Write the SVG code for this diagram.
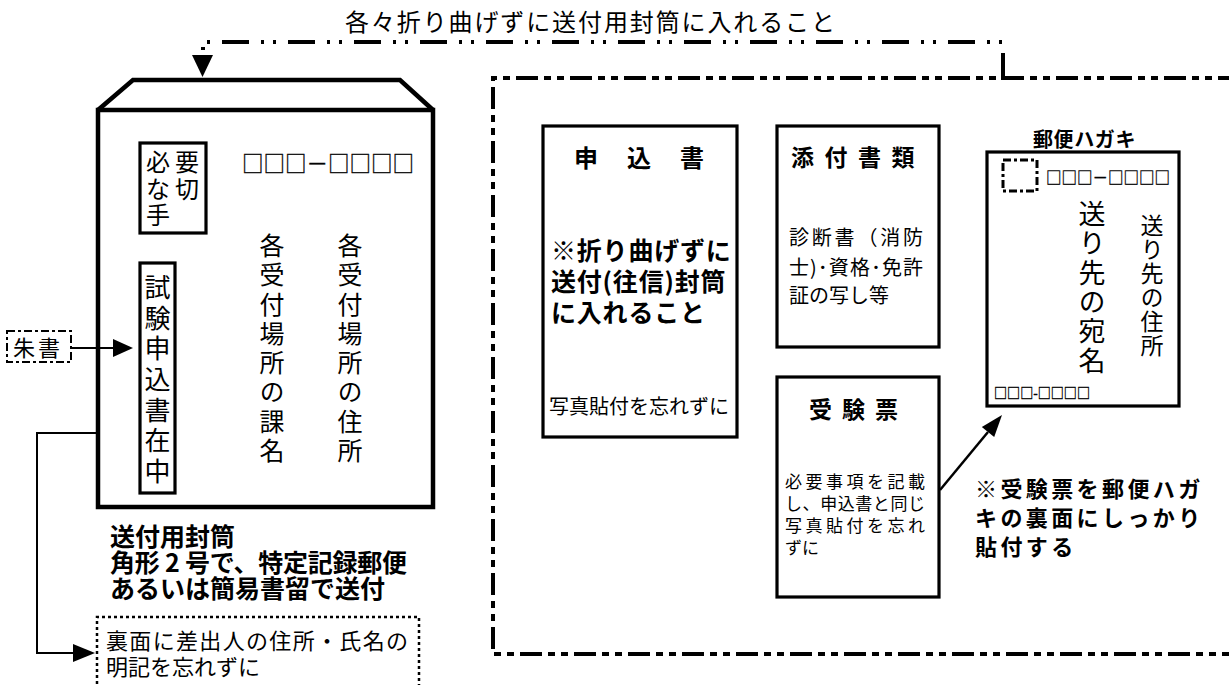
<svg xmlns="http://www.w3.org/2000/svg" width="1229" height="685" viewBox="0 0 1229 685">
<style>
text{font-family:"Noto Sans CJK JP","Noto Sans",sans-serif;fill:#000}
.b{font-weight:700}
.r{font-weight:400}
.v{writing-mode:vertical-rl;text-orientation:upright}
.sq{stroke:#000;stroke-width:0.35;opacity:0.99}
.box{fill:#fff;stroke:#000;stroke-width:3.2}
.conn{fill:none;stroke:#000}
.head{fill:#000;stroke:none}
</style>
<rect width="1229" height="685" fill="#fff"/>

<g id="connectors">
  <path class="conn" d="M1003,80 V42 H203 V56" stroke-width="4" stroke-dasharray="27 12 3 9 3 12"/>
  <polygon class="head" points="192,55 213,55 202.5,77"/>
  <path class="conn" d="M71,348 H114" stroke-width="2"/>
  <polygon class="head" points="113,339 133,348 113,357"/>
  <polyline class="conn" points="98,433 37,433 37,653 75,653" stroke-width="2"/>
  <polygon class="head" points="73,644 95,653 73,662"/>
  <path class="conn" d="M940,490 L988,432" stroke-width="2.5"/>
  <polygon class="head" points="1002,415 994.2,437.1 981.8,426.9"/>
</g>

<g id="top-label">
  <text class="r" x="345" y="31" font-size="24" textLength="490" lengthAdjust="spacing">各々折り曲げずに送付用封筒に入れること</text>
</g>

<g id="envelope">
  <polyline points="98,110 133,80 400,80 433,110" fill="none" stroke="#000" stroke-width="4.5" stroke-linejoin="miter"/>
  <rect x="98" y="110" width="335" height="397" fill="none" stroke="#000" stroke-width="4.5"/>
  <text class="r sq" x="242" y="172" font-size="23" textLength="172" lengthAdjust="spacingAndGlyphs">□□□－□□□□</text>
  <text class="r v" x="272" y="233" font-size="25" letter-spacing="4.3">各受付場所の課名</text>
  <text class="r v" x="350" y="233" font-size="25" letter-spacing="4.3">各受付場所の住所</text>
</g>

<g id="stamp">
  <rect class="box" x="140" y="143" width="66" height="90"/>
  <text class="r" font-size="24" letter-spacing="5"><tspan x="146" y="171">必要</tspan><tspan x="146" y="198">な切</tspan><tspan x="146" y="224">手</tspan></text>
</g>

<g id="zaichu">
  <rect class="box" x="140" y="263" width="35" height="230"/>
  <text class="r v" x="157.5" y="274" font-size="26" letter-spacing="4.7">試験申込書在中</text>
</g>

<g id="shusho">
  <rect x="7" y="331" width="64" height="31" fill="#fff" stroke="#000" stroke-width="2" stroke-dasharray="8 3 3 3"/>
  <text class="r" x="13" y="356" font-size="22" letter-spacing="3">朱書</text>
</g>

<g id="envelope-caption">
  <text class="b" x="110" y="546" font-size="25">送付用封筒</text>
  <text class="b" x="110" y="572" font-size="25" textLength="297" lengthAdjust="spacing">角形 2 号で、特定記録郵便</text>
  <text class="b" x="110" y="598" font-size="25">あるいは簡易書留で送付</text>
</g>

<g id="back-note">
  <path d="M97,690 V617 H419 V690" fill="none" stroke="#000" stroke-width="2.5" stroke-dasharray="3 3"/>
  <text class="r" x="106" y="649" font-size="22" textLength="302" lengthAdjust="spacing">裏面に差出人の住所・氏名の</text>
  <text class="r" x="106" y="675" font-size="22">明記を忘れずに</text>
</g>

<g id="contents-frame">
  <path d="M1240,78 H493 V654 H1240" fill="none" stroke="#000" stroke-width="4" stroke-dasharray="22 6 7 6 7 6"/>
</g>

<g id="application">
  <rect class="box" x="543" y="126" width="194" height="311"/>
  <text class="b" x="574" y="167" font-size="24" letter-spacing="29">申込書</text>
  <text class="b" font-size="25" letter-spacing="0.8"><tspan x="551" y="260">※折り曲げずに</tspan><tspan x="551" y="291">送付(往信)封筒</tspan><tspan x="551" y="322">に入れること</tspan></text>
  <text class="r" x="549" y="414" font-size="20">写真貼付を忘れずに</text>
</g>

<g id="attachments">
  <rect class="box" x="777" y="126" width="162" height="221"/>
  <text class="b" x="791" y="166" font-size="23" letter-spacing="10.5">添付書類</text>
  <text class="r" x="789" y="245" font-size="20" textLength="134" lengthAdjust="spacing">診断書（消防</text>
  <text class="r" x="789" y="275" font-size="20" textLength="134" lengthAdjust="spacing">士)･資格･免許</text>
  <text class="r" x="789" y="303" font-size="20">証の写し等</text>
</g>

<g id="exam-ticket">
  <rect class="box" x="777" y="377" width="162" height="220"/>
  <text class="b" x="809" y="418" font-size="23" letter-spacing="10">受験票</text>
  <text class="r" x="785" y="488" font-size="17" textLength="140" lengthAdjust="spacing">必要事項を記載</text>
  <text class="r" x="785" y="510" font-size="17" textLength="140" lengthAdjust="spacing">し、申込書と同じ</text>
  <text class="r" x="785" y="532" font-size="17" textLength="140" lengthAdjust="spacing">写真貼付を忘れ</text>
  <text class="r" x="785" y="554" font-size="17">ずに</text>
</g>

<g id="ticket-note">
  <text class="b" font-size="22" letter-spacing="3.4"><tspan x="975" y="497">※受験票を郵便ハガ</tspan><tspan x="975" y="526">キの裏面にしっかり</tspan><tspan x="975" y="555">貼付する</tspan></text>
</g>

<g id="postcard">
  <text class="b" x="1033" y="147" font-size="20" letter-spacing="0.6">郵便ハガキ</text>
  <rect class="box" x="987" y="152" width="192" height="254" stroke-width="3.5"/>
  <rect x="1003" y="160" width="34" height="31" fill="none" stroke="#000" stroke-width="3" stroke-dasharray="8 3 3 3"/>
  <text class="r sq" x="1046" y="184" font-size="17" textLength="124" lengthAdjust="spacingAndGlyphs">□□□－□□□□</text>
  <text class="r v" x="1092" y="200" font-size="27" letter-spacing="2.4">送り先の宛名</text>
  <text class="r v" x="1152" y="214" font-size="23" letter-spacing="1">送り先の住所</text>
  <text class="r sq" x="994" y="398" font-size="14" textLength="96" lengthAdjust="spacingAndGlyphs">□□□-□□□□</text>
</g>
</svg>
